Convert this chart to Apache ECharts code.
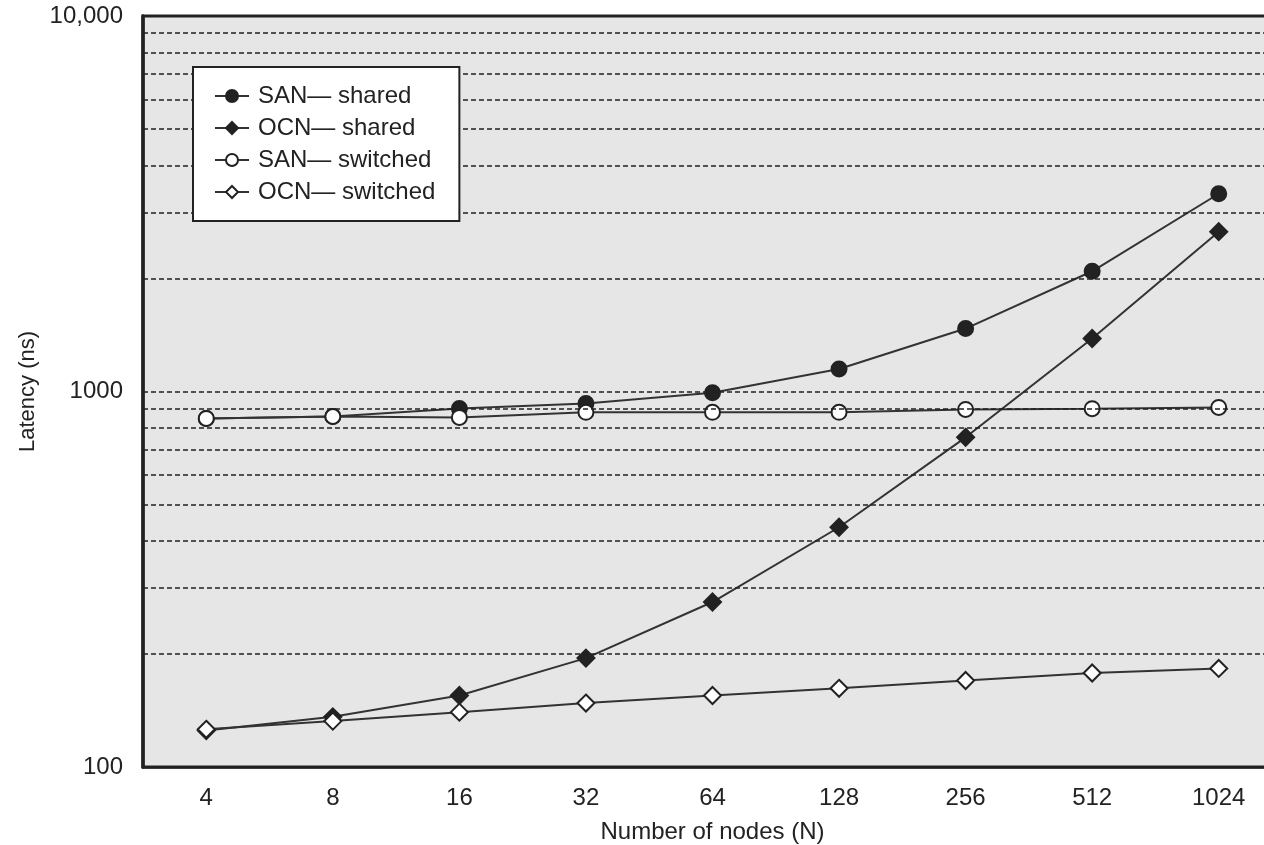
<!DOCTYPE html>
<html>
<head>
<meta charset="utf-8">
<script src="https://cdn.jsdelivr.net/npm/echarts@6/dist/echarts.min.js"></script>
<style>
html,body{margin:0;padding:0;background:#fff;overflow:hidden;width:1264px;height:845px;}
#chart{width:1282px;height:845px;}
</style>
</head>
<body>
<div id="chart"></div>
<script>
const categories = ['4', '8', '16', '32', '64', '128', '256', '512', '1024'];
const sanShared   = [848, 858, 901, 929, 993, 1148, 1471, 2090, 3362];
const ocnShared   = [125, 136, 155, 195, 275, 435, 755, 1384, 2665];
const sanSwitched = [848, 858, 853, 880, 880, 880, 896, 900, 907];
const ocnSwitched = [126, 132.5, 140, 148, 155, 162, 170, 178, 183];
const gridValues  = [200, 300, 400, 500, 600, 700, 800, 900, 1000, 2000, 3000, 4000, 5000, 6000, 7000, 8000, 9000];
const seriesNames = ['SAN\u2014 shared', 'OCN\u2014 shared', 'SAN\u2014 switched', 'OCN\u2014 switched'];

const FONT = '"Liberation Sans", Arial, Helvetica, sans-serif';
const INK = '#222';

const chart = echarts.init(document.getElementById('chart'));

function lineSeries(name, data, symbol, filled, size, z) {
  return {
    name: name,
    type: 'line',
    data: data,
    symbol: symbol,
    symbolSize: size,
    showAllSymbol: true,
    z: z,
    lineStyle: { color: '#333', width: 2 },
    itemStyle: {
      color: filled ? INK : '#fff',
      borderColor: INK,
      borderWidth: 2,
      opacity: 1
    },
    emphasis: { disabled: true }
  };
}

chart.setOption({
  animation: false,
  backgroundColor: '#fff',
  textStyle: { fontFamily: FONT },
  grid: {
    left: 143, right: 0, top: 16, bottom: 78,
    containLabel: false,
    outerBoundsMode: 'none',
    show: true,
    backgroundColor: '#e6e6e6',
    borderColor: INK,
    borderWidth: 3
  },
  legend: {
    data: seriesNames,
    orient: 'vertical',
    left: 193, top: 67,
    z: 100,
    zlevel: 1,
    backgroundColor: '#fff',
    borderColor: INK,
    borderWidth: 2,
    padding: [17, 24, 17, 21],
    itemGap: 8,
    itemWidth: 34,
    itemHeight: 15,
    textStyle: { fontSize: 24, color: INK, fontFamily: FONT, padding: [0, 0, 0, 4] },
    selectedMode: false
  },
  xAxis: {
    type: 'category',
    data: categories,
    boundaryGap: true,
    name: 'Number of nodes (N)',
    nameLocation: 'middle',
    nameGap: 53,
    nameTextStyle: { fontSize: 24, color: INK, fontFamily: FONT },
    axisLine: { lineStyle: { color: INK, width: 2.5 } },
    axisTick: { inside: true, length: 8, alignWithLabel: true, lineStyle: { color: INK, width: 2 } },
    axisLabel: { fontSize: 24, color: INK, margin: 19, fontFamily: FONT },
    splitLine: { show: false }
  },
  yAxis: {
    type: 'log',
    logBase: 10,
    min: 100,
    max: 10000,
    name: 'Latency (ns)',
    nameLocation: 'middle',
    nameGap: 104,
    nameRotate: 90,
    nameTextStyle: { fontSize: 22, color: INK, fontFamily: FONT },
    axisLine: { show: true, lineStyle: { color: INK, width: 3.5 } },
    axisTick: { show: false },
    splitLine: { show: false },
    minorTick: { show: false },
    axisLabel: {
      fontSize: 24, color: INK, margin: 20, fontFamily: FONT,
      formatter: function (v) { return v >= 10000 ? '10,000' : String(v); }
    }
  },
  series: [
    {
      name: 'grid',
      type: 'line',
      data: [],
      z: 1,
      silent: true,
      markLine: {
        silent: true,
        symbol: ['none', 'none'],
        label: { show: false },
        lineStyle: { color: INK, width: 1.7, type: [5, 3] },
        emphasis: { disabled: true },
        data: gridValues.map(function (v) { return { yAxis: v }; })
      }
    },
    lineSeries(seriesNames[0], sanShared, 'circle', true, 15, 3),
    lineSeries(seriesNames[1], ocnShared, 'diamond', true, 17, 3),
    lineSeries(seriesNames[2], sanSwitched, 'circle', false, 15, 4),
    lineSeries(seriesNames[3], ocnSwitched, 'diamond', false, 17, 4)
  ]
});
</script>
</body>
</html>
